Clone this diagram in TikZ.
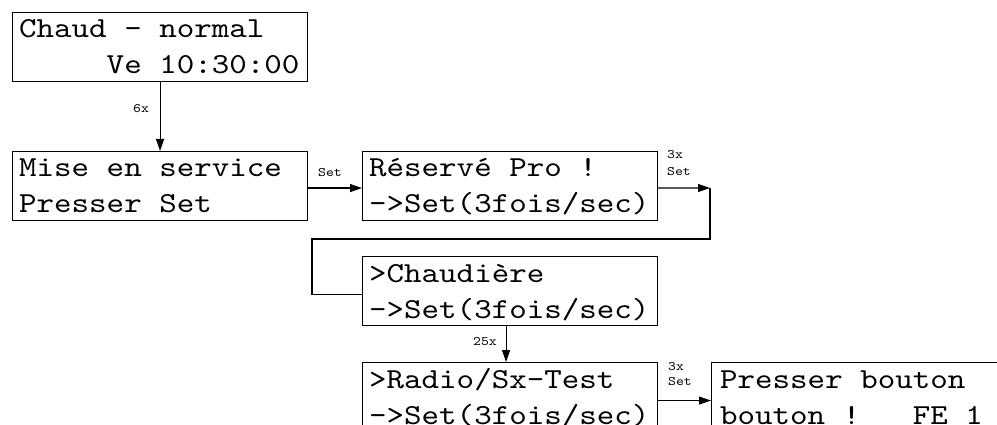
\documentclass[tikz,border=0pt]{standalone}
\usepackage{fontspec}
\usetikzlibrary{arrows.meta}
\newfontfamily\lcdfont{lmmono10-regular}[Extension=.otf,FakeStretch=1.15]
\begin{document}
\begin{tikzpicture}[x=1pt,y=-1pt,
  box/.style={draw, line width=1.1pt, rectangle, inner sep=0pt, anchor=north west,
              minimum width=295pt, minimum height=69pt},
  lcd/.style={anchor=base west, inner sep=0pt, font=\lcdfont\fontsize{29}{35}\selectfont},
  lab/.style={inner sep=0pt, font=\lcdfont\fontsize{13}{15}\selectfont},
  conn/.style={line width=1.1pt},
  arr/.style={conn, -{Triangle[length=12pt,width=8pt]}}]
\useasboundingbox (0,0) rectangle (997,425);
\begin{scope}
\clip (0,0) rectangle (997,425);
% boxes
\node[box] (b1) at (12,12) {};
\node[box] (b2) at (12,151) {};
\node[box] (b3) at (362,151) {};
\node[box] (b4) at (362,256) {};
\node[box] (b5) at (362,362) {};
\node[box, minimum width=400pt] (b6) at (711,362) {};
% texts
\node[lcd] (t1a) at (19,38) {Chaud - normal};
\node[lcd] (t1b) at (19,74) {~~~~~Ve 10:30:00};
\node[lcd] (t2a) at (19,177) {Mise en service};
\node[lcd] (t2b) at (19,213) {Presser Set};
\node[lcd] (t3a) at (369,177) {Réservé Pro !};
\node[lcd] (t3b) at (369,213) {->Set(3fois/sec)};
\node[lcd] (t4a) at (369,282) {>Chaudière};
\node[lcd] (t4b) at (369,318) {->Set(3fois/sec)};
\node[lcd] (t5a) at (369,388) {>Radio/Sx-Test};
\node[lcd] (t5b) at (369,424) {->Set(3fois/sec)};
\node[lcd] (t6a) at (720,388) {Presser bouton};
\node[lcd] (t6b) at (720,424) {bouton !~~~FE 1};
% connectors
\draw[arr] (b1.south) -- (b2.north);
\node[lab] (l1) at (141,109) {6x};
\draw[arr] ([yshift=-2pt]b2.east) -- ([yshift=-2pt]b3.west);
\node[lab] (l2) at (330,173) {Set};
\coordinate (c1) at (710,188);
\coordinate (c2) at (710,239);
\coordinate (c3) at (312,239);
\draw[arr] ([yshift=-2pt]b3.east) -- (c1);
\draw[conn] (c1) -- (c2) -- (c3) |- ([yshift=-3pt]b4.west);
\node[lab, anchor=west] (l3) at (667,155) {3x};
\node[lab, anchor=west] (l4) at (667,172) {Set};
\draw[arr] ([xshift=-4pt]b4.south) -- ([xshift=-4pt]b5.north);
\node[lab] (l5) at (485,342) {25x};
\draw[arr] ([yshift=-3.5pt]b5.east) -- ([yshift=-3.5pt]b6.west);
\node[lab, anchor=west] (l6) at (668,367) {3x};
\node[lab, anchor=west] (l7) at (668,382) {Set};
\end{scope}
\end{tikzpicture}
\end{document}
